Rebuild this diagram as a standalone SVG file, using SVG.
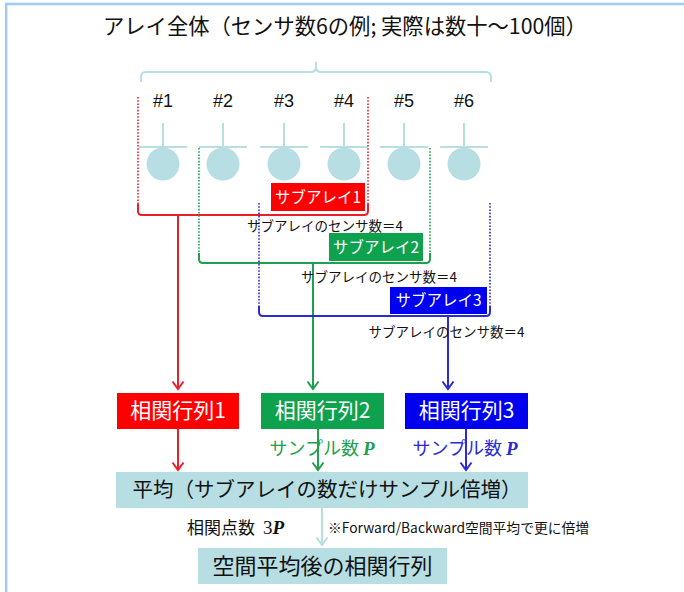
<svg xmlns="http://www.w3.org/2000/svg" width="684" height="592" viewBox="0 0 684 592">
<style>
.jp{font-family:"Noto Sans CJK JP","Noto Sans",sans-serif}
.lat{font-family:"Liberation Sans",Arial,sans-serif}
.pi{font-family:"Liberation Serif","Times New Roman",serif;font-style:italic;font-weight:bold}
.lb{fill:#b7dee3;stroke:none}
.ls{stroke:#b7dee3;stroke-width:2;fill:none}
.w{fill:#fff}
.dotR{stroke:#e8202a;stroke-width:1.6;stroke-dasharray:1.6 1.6;fill:none}
.dotG{stroke:#1ea050;stroke-width:1.6;stroke-dasharray:1.6 1.6;fill:none}
.dotB{stroke:#2a2ad8;stroke-width:1.6;stroke-dasharray:1.6 1.6;fill:none}
.solR{stroke:#e8202a;stroke-width:2;fill:none}
.solG{stroke:#1ea050;stroke-width:2;fill:none}
.solB{stroke:#2a2ad8;stroke-width:2;fill:none}
.red{fill:#ff0000}
.grn{fill:#0fa24e}
.blu{fill:#0000f0}
</style>
<defs>
<marker id="aR" markerWidth="14" markerHeight="12" refX="7" refY="10" markerUnits="userSpaceOnUse" viewBox="0 0 14 12"><path d="M1.5,2.5 L7,10 L12.5,2.5" fill="none" stroke="#e8202a" stroke-width="2"/></marker>
<marker id="aG" markerWidth="14" markerHeight="12" refX="7" refY="10" markerUnits="userSpaceOnUse" viewBox="0 0 14 12"><path d="M1.5,2.5 L7,10 L12.5,2.5" fill="none" stroke="#1ea050" stroke-width="2"/></marker>
<marker id="aB" markerWidth="14" markerHeight="12" refX="7" refY="10" markerUnits="userSpaceOnUse" viewBox="0 0 14 12"><path d="M1.5,2.5 L7,10 L12.5,2.5" fill="none" stroke="#2a2ad8" stroke-width="2"/></marker>
<marker id="aL" markerWidth="14" markerHeight="12" refX="7" refY="10" markerUnits="userSpaceOnUse" viewBox="0 0 14 12"><path d="M1.5,2.5 L7,10 L12.5,2.5" fill="none" stroke="#b7dee3" stroke-width="2"/></marker>
</defs>
<rect width="684" height="592" fill="#fff"/>
<path d="M6.2,592 V4 H684" fill="none" stroke="#9dcbf7" stroke-width="2.4"/>

<g id="title">
<text class="jp" x="103" y="34" font-size="21.3" fill="#111">アレイ全体（センサ数6の例; 実際は数十～100個）</text>
<path class="ls" d="M141,82 V77 Q141,72 146,72 H311 Q316,72 316,67 V62 M316,62 V67 Q316,72 321,72 H486 Q491,72 491,77 V82"/>
</g>

<g id="sensors">
<g id="s1"><text class="lat" x="163" y="107" font-size="18" text-anchor="middle" fill="#111">#1</text><path class="ls" d="M163,123 V147 M139,147 H187"/><circle class="lb" cx="163" cy="164" r="16.5"/></g>
<g id="s2"><text class="lat" x="223" y="107" font-size="18" text-anchor="middle" fill="#111">#2</text><path class="ls" d="M223,123 V147 M199,147 H247"/><circle class="lb" cx="223" cy="164" r="16.5"/></g>
<g id="s3"><text class="lat" x="284" y="107" font-size="18" text-anchor="middle" fill="#111">#3</text><path class="ls" d="M284,123 V147 M260,147 H308"/><circle class="lb" cx="284" cy="164" r="16.5"/></g>
<g id="s4"><text class="lat" x="344" y="107" font-size="18" text-anchor="middle" fill="#111">#4</text><path class="ls" d="M344,123 V147 M320,147 H368"/><circle class="lb" cx="344" cy="164" r="16.5"/></g>
<g id="s5"><text class="lat" x="404" y="107" font-size="18" text-anchor="middle" fill="#111">#5</text><path class="ls" d="M404,123 V147 M380,147 H428"/><circle class="lb" cx="404" cy="164" r="16.5"/></g>
<g id="s6"><text class="lat" x="464" y="107" font-size="18" text-anchor="middle" fill="#111">#6</text><path class="ls" d="M464,123 V147 M440,147 H488"/><circle class="lb" cx="464" cy="164" r="16.5"/></g>
</g>

<g id="connectors">
<path class="dotR" d="M138,97 V205 M368,97 V205"/>
<path class="solR" d="M138,204 V211 Q138,215 142,215 H364 Q368,215 368,211 V204"/>
<path class="solR" d="M178,215 V389" marker-end="url(#aR)"/>
<path class="dotG" d="M199,148 V254 M430,148 V254"/>
<path class="solG" d="M199,253 V259 Q199,263 203,263 H426 Q430,263 430,259 V253"/>
<path class="solG" d="M313,263 V389" marker-end="url(#aG)"/>
<path class="dotB" d="M259,203 V307 M490,203 V307"/>
<path class="solB" d="M259,306 V312 Q259,316 263,316 H486 Q490,316 490,312 V306"/>
<path class="solB" d="M448,316 V389" marker-end="url(#aB)"/>
<path class="solR" d="M178,429 V470" marker-end="url(#aR)"/>
<path class="solG" d="M318,429 V470" marker-end="url(#aG)"/>
<path class="solB" d="M466,429 V470" marker-end="url(#aB)"/>
<path class="ls" d="M322,508 V545" marker-end="url(#aL)"/>
</g>

<g id="sub1">
<rect class="red" x="271" y="183" width="94" height="28"/>
<text class="jp w" x="318" y="202.5" font-size="15.5" text-anchor="middle">サブアレイ1</text>
<text class="jp" x="325" y="231" font-size="13.5" text-anchor="middle" fill="#111">サブアレイのセンサ数＝4</text>
</g>
<g id="sub2">
<rect class="grn" x="329" y="233" width="94" height="28"/>
<text class="jp w" x="376" y="252.5" font-size="15.5" text-anchor="middle">サブアレイ2</text>
<text class="jp" x="379" y="282" font-size="13.5" text-anchor="middle" fill="#111">サブアレイのセンサ数＝4</text>
</g>
<g id="sub3">
<rect class="blu" x="390" y="287" width="97" height="27"/>
<text class="jp w" x="438.5" y="306" font-size="15.5" text-anchor="middle">サブアレイ3</text>
<text class="jp" x="446.5" y="337" font-size="13.5" text-anchor="middle" fill="#111">サブアレイのセンサ数＝4</text>
</g>

<g id="corr1">
<rect class="red" x="117" y="393" width="122" height="36"/>
<text class="jp w" x="178" y="418" font-size="21" text-anchor="middle">相関行列1</text>
</g>
<g id="corr2">
<rect class="grn" x="261" y="393" width="123" height="36"/>
<text class="jp w" x="322.5" y="418" font-size="21" text-anchor="middle">相関行列2</text>
<text class="jp" x="322" y="455" font-size="18" text-anchor="middle" fill="#1ea050">サンプル数 <tspan class="pi" font-size="19">P</tspan></text>
</g>
<g id="corr3">
<rect class="blu" x="405" y="393" width="123" height="36"/>
<text class="jp w" x="466.5" y="418" font-size="21" text-anchor="middle">相関行列3</text>
<text class="jp" x="465" y="455" font-size="18" text-anchor="middle" fill="#2a2ad8">サンプル数 <tspan class="pi" font-size="19">P</tspan></text>
</g>

<g id="avg">
<rect class="lb" x="116" y="472" width="412" height="36"/>
<text class="jp" x="327" y="497" font-size="20.5" text-anchor="middle" fill="#111">平均（サブアレイの数だけサンプル倍増）</text>
</g>
<text class="jp" x="187" y="534" font-size="17" fill="#111">相関点数<tspan dx="8" style="font-family:'Liberation Serif',serif;font-size:19px">3</tspan><tspan class="pi" font-size="19">P</tspan></text>
<text class="jp" x="328" y="533" font-size="13.8" fill="#111">※Forward/Backward空間平均で更に倍増</text>

<g id="result">
<rect class="lb" x="198" y="548" width="249" height="36"/>
<text class="jp" x="322.5" y="574" font-size="22" text-anchor="middle" fill="#111">空間平均後の相関行列</text>
</g>
</svg>
